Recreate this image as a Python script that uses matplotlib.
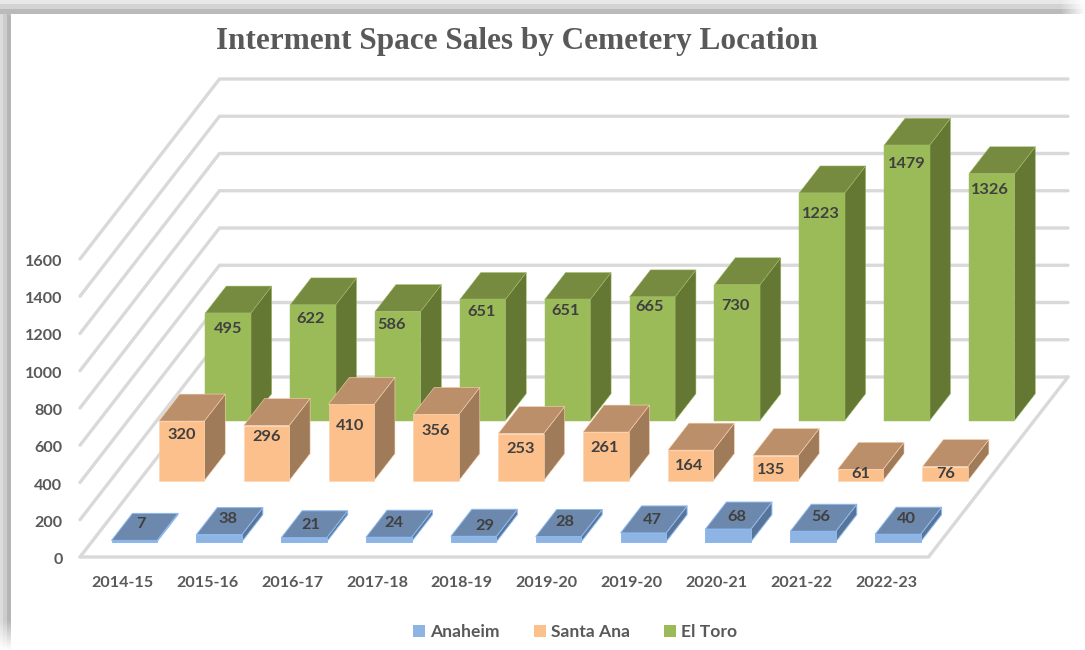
import numpy as np
import matplotlib.pyplot as plt
from matplotlib.patches import Polygon, Patch
from matplotlib.transforms import ScaledTranslation

years = ['2014-15', '2015-16', '2016-17', '2017-18', '2018-19',
         '2019-20', '2019-20', '2020-21', '2021-22', '2022-23']
ticks = [0, 200, 400, 600, 800, 1000, 1200, 1400, 1600]

anaheim = [7, 38, 21, 24, 29, 28, 47, 68, 56, 40]
santa_ana = [320, 296, 410, 356, 253, 261, 164, 135, 61, 76]
# first green bar is drawn taller than its label says in the source chart
el_toro = [578, 622, 586, 651, 651, 665, 730, 1223, 1479, 1326]
el_toro_labels = [495, 622, 586, 651, 651, 665, 730, 1223, 1479, 1326]

# label nudges in pixels from the front top centre of each bar (dy > 0 is downwards)
anaheim_dx = [6.7, 8.4, 6.7, 5, 10.7, 6, 9, 9, 8, 8]
anaheim_dy = [-16.1, -15.6, -12.8, -14.5, -10.3, -14.8, -12.9, -11.7, -14.6, -14.9]
santa_ana_dx = [.2, .2, -.8, -.5, -.8, -.8, -1.2, -4.2, 0, 0]
santa_ana_dy = [13.6, 11.1, 21.4, 16.3, 15.7, 16.2, 16.1, 14.4, 5, 7.2]
el_toro_dx = [.6, -2, -5.7, -1, -1.4, -2.7, -1.7, -1.4, .3, -1.7]
el_toro_dy = [16.3, 14.1, 13.1, 12.8, 11.8, 9.9, 21, 21.1, 18.5, 16.3]

W, H = 1085, 650
plt.rcParams['font.family'] = ['Lato', 'DejaVu Sans']
fig = plt.figure(figsize=(W / 100, H / 100), dpi=100, facecolor='white')

# shadow frame of the screenshot
xx, yy = np.meshgrid(np.arange(W), np.arange(H))
top = np.select([yy < 4, yy < 9, yy < 14], [0.91, 0.83, 0.73], 1.0)
top = 1 - (1 - top) * np.clip((W - xx) / 25, 0, 1)
left = np.select([xx < 3, xx < 7, xx < 11], [0.86, 0.80, 0.71], 1.0)
left = 1 - (1 - left) * np.clip((H - yy) / 30, 0, 1)
# band fades towards the outer corner
left = 1 - (1 - left) * np.clip((yy - xx * 0.6) / 10, 0, 1)
frame = np.minimum(top, left)
fig.figimage(frame, cmap='gray', vmin=0, vmax=1, origin='upper', zorder=-1)

# floor width 848.5 px, height of 1600 = 298 px
ax = fig.add_axes([80 / W, (H - 557) / H, 848.5 / W, 298 / H])
ax.patch.set_alpha(0)
ax.set_xlim(0, 10)
ax.set_ylim(0, 1600)
for s in ax.spines.values():
    s.set_visible(False)
ax.set_xticks(np.arange(10) + 0.5, years)
ax.set_yticks(ticks)
ax.tick_params(length=0, labelcolor='#595959', labelsize=11.6)
ax.tick_params(axis='y', pad=12.6)
ax.tick_params(axis='x', pad=13.8)
for t in ax.get_xticklabels() + ax.get_yticklabels():
    t.set_fontweight('bold')
shift = ScaledTranslation(0, -1.5 / 100, fig.dpi_scale_trans)
for t in ax.get_yticklabels():
    t.set_transform(t.get_transform() + shift)

DEPTH_X = 139.5 / 84.85
DEPTH_Y = 180 / (298 / 1600)


def project(x, d, v):
    return x + d * DEPTH_X, v + d * DEPTH_Y


grid = dict(color='#d9d9d9', lw=2.4, solid_capstyle='round', solid_joinstyle='miter', clip_on=False, zorder=1)
for v in ticks:
    p0, p1, p2 = project(0, 0, v), project(0, 1, v), project(10, 1, v)
    ax.plot([p0[0], p1[0], p2[0]], [p0[1], p1[1], p2[1]], **grid)
p0, p1, p2 = project(0, 0, 0), project(10, 0, 0), project(10, 1, 0)
ax.plot([p0[0], p1[0], p2[0]], [p0[1], p1[1], p2[1]], **grid)

BAR_W = 45.5 / 84.85
BAR_D = 0.15


def draw_bar(i, d0, v, front, topc, side, edge, lw):
    x0 = i + 0.5 - BAR_W / 2
    x1 = x0 + BAR_W
    d1 = d0 + BAR_D
    faces = [
        ([project(x1, d0, 0), project(x1, d1, 0), project(x1, d1, v), project(x1, d0, v)], side),
        ([project(x0, d0, v), project(x1, d0, v), project(x1, d1, v), project(x0, d1, v)], topc),
        ([project(x0, d0, 0), project(x1, d0, 0), project(x1, d0, v), project(x0, d0, v)], front),
    ]
    for pts, c in faces:
        ax.add_patch(Polygon(pts, closed=True, facecolor=c, edgecolor=edge, lw=lw,
                             joinstyle='round', clip_on=False, zorder=2))


series = [
    (el_toro, el_toro_labels, 0.757, '#9BBB59', '#768A40', '#647733', '#A3BE68', 0.35, el_toro_dx, el_toro_dy),
    (santa_ana, santa_ana, 0.424, '#FCC08C', '#BC8F6B', '#A07B5A', '#FBD3B0', 0.4, santa_ana_dx, santa_ana_dy),
    (anaheim, anaheim, 0.085, '#8DB4E3', '#6C88AD', '#587599', '#8DB9EE', 0.7, anaheim_dx, anaheim_dy),
]
for vals, labels, d0, front, topc, side, edge, lw, ldx, ldy in series:
    for i, v in enumerate(vals):
        draw_bar(i, d0, v, front, topc, side, edge, lw)
    for i, v in enumerate(vals):
        ax.annotate(str(labels[i]), xy=project(i + 0.5, d0, v), xytext=(ldx[i], -ldy[i]),
                    textcoords='offset pixels', ha='center', va='center', fontsize=11.8,
                    fontweight='bold', color='#404040', annotation_clip=False, zorder=5)

fig.text(517 / W, 1 - 41.5 / H, 'Interment Space Sales by Cemetery Location', ha='center', va='center',
         family='Liberation Serif', fontweight='bold', fontsize=22.5, color='#595959')

handles = [Patch(facecolor='#8DB4E3', label='Anaheim'),
           Patch(facecolor='#FCC08C', label='Santa Ana'),
           Patch(facecolor='#9BBB59', label='El Toro')]
leg = fig.legend(handles=handles, ncol=3, loc='center', bbox_to_anchor=(575 / W, 1 - 632 / H), frameon=False,
                 prop={'weight': 'bold', 'size': 12.6}, labelcolor='#595959',
                 handlelength=0.68, handleheight=0.68, handletextpad=0.28, columnspacing=1.95)

fig.savefig('out.png', dpi=100)
